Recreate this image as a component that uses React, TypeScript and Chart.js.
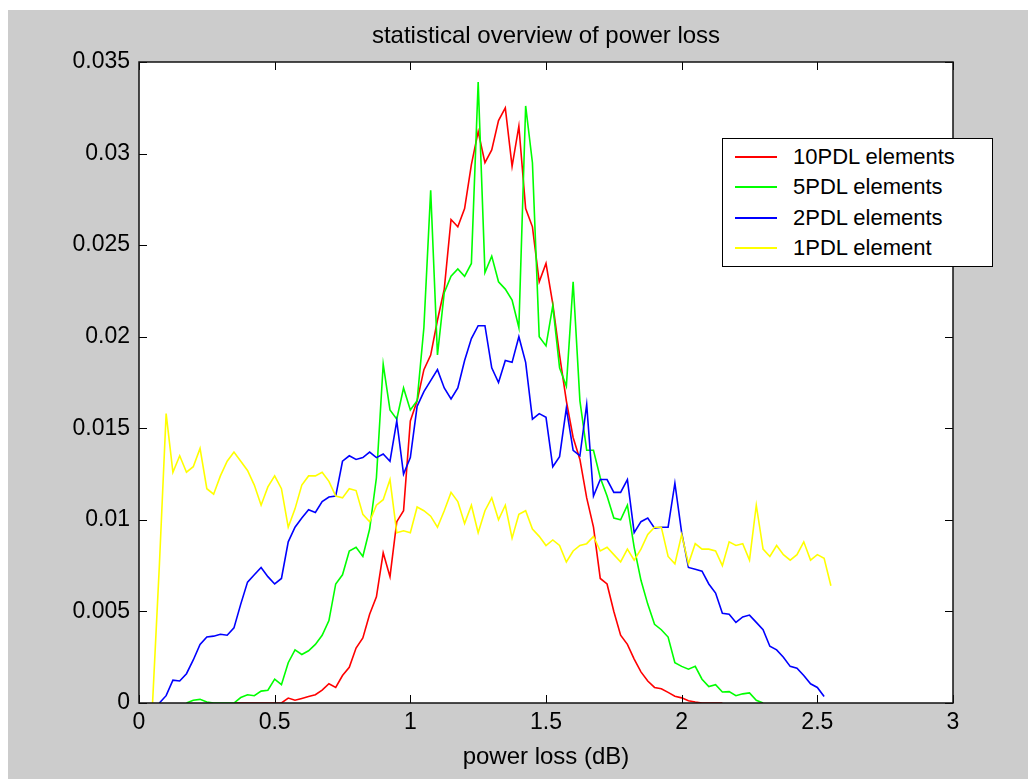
import React, { useEffect, useRef } from "react";
import { Chart, registerables } from "chart.js";

Chart.register(...registerables);

const chartTitle = "statistical overview of power loss";
const xAxisLabel = "power loss (dB)";
const xTicks = [0, 0.5, 1, 1.5, 2, 2.5, 3];
const xTickLabels = ["0", "0.5", "1", "1.5", "2", "2.5", "3"];
const yTicks = [0, 0.005, 0.01, 0.015, 0.02, 0.025, 0.03, 0.035];
const yTickLabels = ["0", "0.005", "0.01", "0.015", "0.02", "0.025", "0.03", "0.035"];

const seriesNames = ["10PDL elements", "5PDL elements", "2PDL elements", "1PDL element"];
const seriesColors = ["#ff0000", "#00ff00", "#0000ff", "#ffff00"];

const binCenters = [
  0.05, 0.075, 0.1, 0.125, 0.15, 0.175, 0.2, 0.225, 0.25, 0.275,
  0.3, 0.325, 0.35, 0.375, 0.4, 0.425, 0.45, 0.475, 0.5, 0.525,
  0.55, 0.575, 0.6, 0.625, 0.65, 0.675, 0.7, 0.725, 0.75, 0.775,
  0.8, 0.825, 0.85, 0.875, 0.9, 0.925, 0.95, 0.975, 1, 1.025,
  1.05, 1.075, 1.1, 1.125, 1.15, 1.175, 1.2, 1.225, 1.25, 1.275,
  1.3, 1.325, 1.35, 1.375, 1.4, 1.425, 1.45, 1.475, 1.5, 1.525,
  1.55, 1.575, 1.6, 1.625, 1.65, 1.675, 1.7, 1.725, 1.75, 1.775,
  1.8, 1.825, 1.85, 1.875, 1.9, 1.925, 1.95, 1.975, 2, 2.025,
  2.05, 2.075, 2.1, 2.125, 2.15, 2.175, 2.2, 2.225, 2.25, 2.275,
  2.3, 2.325, 2.35, 2.375, 2.4, 2.425, 2.45, 2.475, 2.5, 2.525,
  2.55, 2.575,
];

const pdl10 = [
  null, null, null, null, null, null, null, null, null, null,
  null, null, 0, 0, 0, 0, 0, 0, 0, 0,
  0.27e-3, 0.15e-3, 0.25e-3, 0.35e-3, 0.45e-3, 0.7e-3, 1.05e-3, 0.85e-3, 1.5e-3, 1.95e-3,
  3.0e-3, 3.55e-3, 4.85e-3, 5.8e-3, 8.2e-3, 6.9e-3, 9.9e-3, 10.5e-3, 15.4e-3, 16.5e-3,
  18.2e-3, 19.0e-3, 20.9e-3, 22.6e-3, 26.4e-3, 26.0e-3, 27.0e-3, 29.4e-3, 31.2e-3, 29.5e-3,
  30.2e-3, 31.8e-3, 32.5e-3, 29.3e-3, 31.5e-3, 27.0e-3, 26.0e-3, 23.0e-3, 24.0e-3, 21.8e-3,
  19.0e-3, 16.5e-3, 14.5e-3, 13.3e-3, 11.2e-3, 9.6e-3, 6.8e-3, 6.5e-3, 5.0e-3, 3.7e-3,
  3.2e-3, 2.4e-3, 1.7e-3, 1.2e-3, 0.85e-3, 0.78e-3, 0.58e-3, 0.37e-3, 0.28e-3, 0.12e-3,
  0.05e-3, 0, 0, 0, 0, null, null, null, null, null,
  null, null, null, null, null, null, null, null, null, null,
  null, null,
];

const pdl5 = [
  null, null, null, null, null, 0, 0.15e-3, 0.2e-3, 0.05e-3, 0,
  0, 0, 0, 0.3e-3, 0.45e-3, 0.4e-3, 0.65e-3, 0.7e-3, 1.3e-3, 1.0e-3,
  2.2e-3, 2.9e-3, 2.65e-3, 2.85e-3, 3.2e-3, 3.7e-3, 4.5e-3, 6.5e-3, 7.0e-3, 8.3e-3,
  8.5e-3, 8.0e-3, 9.5e-3, 12.3e-3, 18.5e-3, 16.0e-3, 15.5e-3, 17.2e-3, 16.0e-3, 16.5e-3,
  20.5e-3, 28.0e-3, 19.0e-3, 22.4e-3, 23.3e-3, 23.7e-3, 23.3e-3, 24.0e-3, 33.9e-3, 23.5e-3,
  24.4e-3, 23.0e-3, 22.6e-3, 22.0e-3, 20.5e-3, 32.6e-3, 29.5e-3, 20.0e-3, 19.5e-3, 21.7e-3,
  18.3e-3, 17.3e-3, 23.0e-3, 16.5e-3, 13.8e-3, 13.8e-3, 12.3e-3, 11.3e-3, 10.1e-3, 10.0e-3,
  10.8e-3, 8.5e-3, 6.7e-3, 5.4e-3, 4.3e-3, 4.0e-3, 3.6e-3, 2.2e-3, 2.0e-3, 1.85e-3,
  2.0e-3, 1.3e-3, 0.9e-3, 1.0e-3, 0.6e-3, 0.62e-3, 0.4e-3, 0.5e-3, 0.55e-3, 0.15e-3,
  0, null, null, null, null, null, null, null, null, null,
  null, null,
];

const pdl2 = [
  null, 0, 0.4e-3, 1.25e-3, 1.2e-3, 1.6e-3, 2.35e-3, 3.2e-3, 3.6e-3, 3.65e-3,
  3.75e-3, 3.7e-3, 4.1e-3, 5.4e-3, 6.6e-3, 7.0e-3, 7.4e-3, 6.9e-3, 6.5e-3, 6.8e-3,
  8.8e-3, 9.6e-3, 10.1e-3, 10.55e-3, 10.4e-3, 11.0e-3, 11.25e-3, 11.3e-3, 13.2e-3, 13.5e-3,
  13.3e-3, 13.4e-3, 13.7e-3, 13.4e-3, 13.6e-3, 13.2e-3, 15.4e-3, 12.5e-3, 13.4e-3, 16.2e-3,
  17.0e-3, 17.6e-3, 18.2e-3, 17.2e-3, 16.6e-3, 17.2e-3, 18.7e-3, 19.9e-3, 20.6e-3, 20.6e-3,
  18.3e-3, 17.5e-3, 18.7e-3, 18.6e-3, 20.0e-3, 18.6e-3, 15.5e-3, 15.8e-3, 15.6e-3, 12.9e-3,
  13.45e-3, 16.1e-3, 13.8e-3, 13.5e-3, 16.3e-3, 11.3e-3, 12.2e-3, 12.2e-3, 11.5e-3, 11.5e-3,
  12.2e-3, 9.3e-3, 9.9e-3, 10.1e-3, 9.55e-3, 9.6e-3, 9.6e-3, 12.0e-3, 9.3e-3, 7.4e-3,
  7.3e-3, 7.2e-3, 6.5e-3, 6.0e-3, 4.9e-3, 4.85e-3, 4.4e-3, 4.7e-3, 4.8e-3, 4.4e-3,
  4.0e-3, 3.1e-3, 2.9e-3, 2.5e-3, 2.0e-3, 1.9e-3, 1.5e-3, 1.05e-3, 0.85e-3, 0.35e-3,
  null, null,
];

const pdl1 = [
  0, 7.5e-3, 15.8e-3, 12.6e-3, 13.5e-3, 12.6e-3, 12.9e-3, 13.9e-3, 11.7e-3, 11.4e-3,
  12.4e-3, 13.2e-3, 13.7e-3, 13.2e-3, 12.7e-3, 11.9e-3, 10.8e-3, 11.8e-3, 12.4e-3, 11.7e-3,
  9.6e-3, 10.6e-3, 11.9e-3, 12.4e-3, 12.4e-3, 12.6e-3, 12.1e-3, 11.3e-3, 11.2e-3, 11.7e-3,
  11.6e-3, 10.3e-3, 9.9e-3, 10.8e-3, 11.1e-3, 12.2e-3, 9.3e-3, 9.4e-3, 9.3e-3, 10.7e-3,
  10.5e-3, 10.2e-3, 9.6e-3, 10.5e-3, 11.5e-3, 11.0e-3, 9.8e-3, 10.8e-3, 9.3e-3, 10.5e-3,
  11.2e-3, 10.0e-3, 10.8e-3, 9.0e-3, 10.3e-3, 10.5e-3, 9.5e-3, 9.1e-3, 8.6e-3, 8.9e-3,
  8.6e-3, 7.7e-3, 8.3e-3, 8.6e-3, 8.7e-3, 9.1e-3, 8.3e-3, 8.5e-3, 8.1e-3, 7.7e-3,
  8.4e-3, 7.8e-3, 8.4e-3, 9.2e-3, 9.6e-3, 9.6e-3, 8.0e-3, 7.6e-3, 9.2e-3, 7.6e-3,
  8.7e-3, 8.4e-3, 8.4e-3, 8.3e-3, 7.5e-3, 8.8e-3, 8.6e-3, 8.7e-3, 7.8e-3, 10.8e-3,
  8.4e-3, 8.0e-3, 8.6e-3, 8.1e-3, 7.8e-3, 8.1e-3, 8.8e-3, 7.8e-3, 8.1e-3, 7.9e-3,
  6.4e-3, null,
];

const seriesValues = [pdl10, pdl5, pdl2, pdl1];

const FONT = "'Liberation Sans', Arial, sans-serif";

const matlabAxes = {
  id: "matlabAxes",
  beforeDraw(chart: any) {
    const { ctx, chartArea: a } = chart;
    ctx.save();
    ctx.fillStyle = "#ffffff";
    ctx.fillRect(a.left, a.top, a.right - a.left, a.bottom - a.top);
    ctx.restore();
  },
  afterDatasetsDraw(chart: any) {
    const { ctx, chartArea: a, scales } = chart;
    const L = 8;
    ctx.save();
    ctx.strokeStyle = "#000000";
    ctx.lineWidth = 1;
    ctx.beginPath();
    for (const v of xTicks) {
      const px = Math.round(scales.x.getPixelForValue(v)) + 0.5;
      ctx.moveTo(px, a.bottom);
      ctx.lineTo(px, a.bottom - L);
      ctx.moveTo(px, a.top);
      ctx.lineTo(px, a.top + L);
    }
    for (const v of yTicks) {
      const py = Math.round(scales.y.getPixelForValue(v)) + 0.5;
      ctx.moveTo(a.left, py);
      ctx.lineTo(a.left + L, py);
      ctx.moveTo(a.right, py);
      ctx.lineTo(a.right - L, py);
    }
    ctx.stroke();
    ctx.lineWidth = 1.5;
    ctx.strokeStyle = "#111111";
    ctx.strokeRect(a.left, a.top, a.right - a.left, a.bottom - a.top);
    ctx.restore();
  },
};

export default function App() {
  const canvasRef = useRef<HTMLCanvasElement | null>(null);

  useEffect(() => {
    const canvas = canvasRef.current;
    if (!canvas) return;
    const chart = new Chart(canvas, {
      type: "line",
      data: {
        datasets: seriesValues.map((vals, k) => ({
          label: seriesNames[k],
          data: binCenters.map((x, i) => ({ x, y: vals[i] })),
          borderColor: seriesColors[k],
          backgroundColor: seriesColors[k],
          borderWidth: 1.6,
          pointRadius: 0,
          fill: false,
          tension: 0,
          spanGaps: false,
          order: seriesValues.length - 1 - k,
        })),
      },
      options: {
        animation: false,
        responsive: false,
        maintainAspectRatio: false,
        layout: { padding: { left: 0, right: 75, top: 0, bottom: 0 } },
        plugins: {
          legend: { display: false },
          tooltip: { enabled: false },
          title: {
            display: true,
            fullSize: false,
            text: chartTitle,
            color: "#000000",
            font: { family: FONT, size: 24, weight: "normal", lineHeight: 1.2 },
            padding: { top: 11.6, bottom: 11.6 },
          },
        },
        scales: {
          x: {
            type: "linear",
            min: 0,
            max: 3,
            afterBuildTicks: (s: any) => {
              s.ticks = xTicks.map((v) => ({ value: v }));
            },
            afterFit: (s: any) => {
              s.height = 76;
            },
            ticks: {
              callback: (_v: any, i: number) => xTickLabels[i],
              color: "#000000",
              font: { family: FONT, size: 23, lineHeight: 1.2 },
              padding: 6,
              maxRotation: 0,
              autoSkip: false,
            },
            grid: { display: false, drawTicks: false },
            border: { display: false },
            title: {
              display: true,
              text: xAxisLabel,
              color: "#000000",
              font: { family: FONT, size: 24, lineHeight: 1.2 },
              padding: { top: 0, bottom: 7.6 },
            },
          },
          y: {
            type: "linear",
            min: 0,
            max: 0.035,
            afterBuildTicks: (s: any) => {
              s.ticks = yTicks.map((v) => ({ value: v }));
            },
            afterFit: (s: any) => {
              s.width = 131;
            },
            ticks: {
              callback: (_v: any, i: number) => yTickLabels[i],
              color: "#000000",
              font: { family: FONT, size: 23, lineHeight: 1.2 },
              padding: 9,
              autoSkip: false,
            },
            grid: { display: false, drawTicks: false },
            border: { display: false },
          },
        },
      },
      plugins: [matlabAxes],
    } as any);
    return () => chart.destroy();
  }, []);

  return (
    <div
      style={{
        position: "fixed",
        left: 8,
        top: 10,
        width: 1020,
        height: 769,
        background: "#cccccc",
        overflow: "hidden",
      }}
    >
      <canvas ref={canvasRef} width={1020} height={769} style={{ display: "block" }} />
      <div
        style={{
          position: "absolute",
          left: 714,
          top: 128,
          width: 271,
          height: 129,
          boxSizing: "border-box",
          border: "1px solid #000000",
          background: "#ffffff",
          fontFamily: FONT,
          fontSize: 22,
          color: "#000000",
        }}
      >
        {seriesNames.map((name, k) => (
          <div
            key={name}
            style={{
              position: "absolute",
              left: 0,
              top: 3 + k * 30.4,
              width: "100%",
              height: 30,
              display: "flex",
              alignItems: "center",
            }}
          >
            <div
              style={{
                marginLeft: 12,
                width: 42,
                height: 2,
                background: seriesColors[k],
              }}
            />
            <span style={{ marginLeft: 16, whiteSpace: "nowrap", lineHeight: "30px" }}>{name}</span>
          </div>
        ))}
      </div>
    </div>
  );
}
